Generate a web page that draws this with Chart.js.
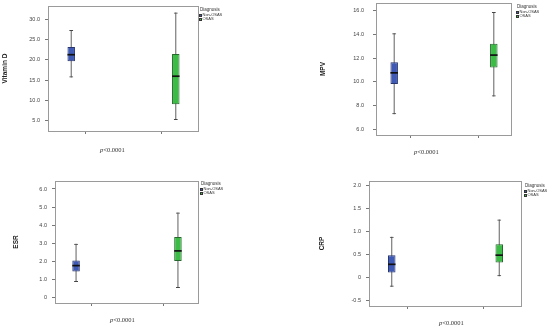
<!DOCTYPE html>
<html><head><meta charset="utf-8">
<script src="https://cdn.jsdelivr.net/npm/chart.js@4.4.1/dist/chart.umd.min.js"></script>
<style>
html,body{margin:0;padding:0;background:#fff;width:550px;height:330px;overflow:hidden;position:relative;font-family:"Liberation Sans",Arial,sans-serif;}
canvas{position:absolute;}
.lg{position:absolute;color:#333;line-height:1;white-space:nowrap;font-size:4.5px;}
.sw{position:absolute;width:3px;height:3px;border:0.5px solid #333;box-sizing:border-box;}
.pv{position:absolute;font-family:"Liberation Serif","Times New Roman",serif;font-size:6.5px;line-height:1;color:#333;white-space:nowrap;}
</style></head><body>
<script>
// categories / series (each box: [min, q1, median, q3, max])
const groups = ['Non-OSAS', 'OSAS'];
const vitDNonOSAS = [15.7, 19.7, 21.3, 23.2, 27.4];
const vitDOSAS    = [5.2, 9.1, 16.0, 21.5, 31.7];
const mpvNonOSAS  = [7.25, 9.8, 10.75, 11.65, 14.1];
const mpvOSAS     = [8.75, 11.2, 12.25, 13.2, 15.9];
const esrNonOSAS  = [0.87, 1.46, 1.78, 2.06, 2.98];
const esrOSAS     = [0.54, 2.04, 2.59, 3.36, 4.70];
const crpNonOSAS  = [-0.21, 0.10, 0.28, 0.48, 0.88];
const crpOSAS     = [0.02, 0.32, 0.48, 0.72, 1.26];
// tick labels
const vitDTicks = [5, 10, 15, 20, 25, 30];
const mpvTicks  = [6, 8, 10, 12, 14, 16];
const esrTicks  = [0, 1, 2, 3, 4, 5, 6];
const crpTicks  = [-0.5, 0, 0.5, 1.0, 1.5, 2.0];
const pText = 'p<0.0001';

const fill = {'Non-OSAS': '#3f5ab4', 'OSAS': '#3cbb46'};
const edge = {'Non-OSAS': '#26356e', 'OSAS': '#24682b'};

const panels = [
  {qx:0,   qy:0,   L:48,  R:199, T:6,  B:131, titleX:5,  tickPad:5, catPct:0.77, title:'Vitamin D', ticks:vitDTicks, min:2.5,   max:33.3, data:[vitDNonOSAS, vitDOSAS], leg:{x:199, y:8},  p:{x:100, y:150}},
  {qx:275, qy:0,   L:101, R:237, T:3,  B:135, titleX:48, tickPad:9, catPct:0.93, title:'MPV',       ticks:mpvTicks,  min:5.5,   max:16.65, data:[mpvNonOSAS, mpvOSAS], leg:{x:241, y:5},  p:{x:139, y:152}},
  {qx:0,   qy:165, L:55,  R:199, T:16, B:138, titleX:16, tickPad:5, catPct:0.83, title:'ESR',       ticks:esrTicks,  min:-0.28, max:6.44, data:[esrNonOSAS, esrOSAS], leg:{x:200, y:17}, p:{x:110, y:155}},
  {qx:275, qy:165, L:94,  R:247, T:16, B:141, titleX:47, tickPad:5, catPct:0.81, title:'CRP',       ticks:crpTicks,  min:-0.63, max:2.10, data:[crpNonOSAS, crpOSAS], leg:{x:249, y:19}, p:{x:164, y:158}}
];

const framePlugin = {
  id: 'frame',
  beforeDatasetsDraw(chart) {
    const {ctx, chartArea: a} = chart;
    ctx.save();
    ctx.strokeStyle = '#9a9a9a';
    ctx.lineWidth = 1;
    ctx.strokeRect(Math.round(a.left) + 0.5, Math.round(a.top) + 0.5,
                   Math.round(a.right - a.left) - 1, Math.round(a.bottom - a.top));
    ctx.restore();
  }
};

function fmt(v) { return v === 0 ? '0' : v.toFixed(1); }

function makeDatasets(boxes, catPct) {
  const ds = [];
  groups.forEach((g, gi) => {
    const b = boxes[gi];
    const at = (val) => groups.map((_, i) => i === gi ? val : null);
    const common = {stack: g, grouped: true, categoryPercentage: catPct, barPercentage: 1, borderSkipped: false};
    // median line
    ds.push(Object.assign({label: g + ' median', data: at([b[2], b[2]]), backgroundColor: '#111', borderWidth: 0, inflateAmount: 0.85, maxBarThickness: 5.8, order: -1}, common));
    // box (q1..q3)
    ds.push(Object.assign({label: g, data: at([b[1], b[3]]), backgroundColor: fill[g], borderColor: edge[g], borderWidth: 1, inflateAmount: 0, maxBarThickness: 7.5, order: 0}, common));
    // whisker caps
    ds.push(Object.assign({label: g + ' caps', data: at([b[0], b[4]]), backgroundColor: 'rgba(0,0,0,0)', borderColor: '#444', borderWidth: {top: 1, bottom: 1, left: 0, right: 0}, inflateAmount: 0, maxBarThickness: 4, order: 1}, common));
    // whisker line
    ds.push(Object.assign({label: g + ' whisker', data: at([b[0], b[4]]), backgroundColor: '#606060', borderWidth: 0, inflateAmount: 0, maxBarThickness: 1, order: 2}, common));
  });
  return ds;
}

panels.forEach((p) => {
  const cv = document.createElement('canvas');
  cv.width = 285; cv.height = 175;
  cv.style.left = (p.qx - 10) + 'px';
  cv.style.top = (p.qy - 10) + 'px';
  cv.style.width = '285px'; cv.style.height = '175px';
  document.body.appendChild(cv);
  const titleLeft = p.titleX - 3.9;
  const yW = p.L - titleLeft;
  const xH = 8;
  new Chart(cv.getContext('2d'), {
    type: 'bar',
    data: {labels: groups, datasets: makeDatasets(p.data, p.catPct)},
    options: {
      responsive: false, animation: false, devicePixelRatio: 1,
      layout: {padding: {left: 10 + titleLeft, right: 275 - p.R, top: 10 + p.T, bottom: 165 - p.B - xH}},
      plugins: {legend: {display: false}, tooltip: {enabled: false}},
      scales: {
        x: {
          type: 'category', offset: true,
          grid: {offset: false, drawOnChartArea: false, drawTicks: true, tickLength: 3, color: '#777'},
          border: {display: false},
          ticks: {callback: () => '', padding: 0},
          afterFit: s => { s.height = xH; }
        },
        y: {
          type: 'linear', min: p.min, max: p.max, stacked: false,
          grid: {drawOnChartArea: false, drawTicks: true, tickLength: 3, color: '#777'},
          border: {display: false},
          ticks: {autoSkip: false, padding: p.tickPad, color: '#444', font: {family: '"Liberation Sans", Arial, sans-serif', size: 5.5}, callback: v => fmt(v)},
          afterBuildTicks: s => { s.ticks = p.ticks.map(v => ({value: v})); },
          title: {display: true, text: p.title, color: '#222', padding: 0, font: {family: '"Liberation Sans", Arial, sans-serif', size: 6.5, weight: 'bold', lineHeight: 1.2}},
          afterFit: s => { s.width = yW; }
        }
      }
    },
    plugins: [framePlugin]
  });

  // legend (Diagnosis)
  const lx = p.qx + p.leg.x, ly = p.qy + p.leg.y;
  const t = document.createElement('div');
  t.className = 'lg'; t.textContent = 'Diagnosis';
  t.style.left = (lx + 1) + 'px'; t.style.top = ly + 'px';
  document.body.appendChild(t);
  groups.forEach((g, gi) => {
    const s = document.createElement('div');
    s.className = 'sw'; s.style.background = fill[g];
    s.style.left = lx + 'px'; s.style.top = (ly + 5.5 + gi * 4) + 'px';
    document.body.appendChild(s);
    const l = document.createElement('div');
    l.className = 'lg'; l.style.fontSize = '4px'; l.textContent = g;
    l.style.left = (lx + 3.5) + 'px'; l.style.top = (ly + 5.3 + gi * 4) + 'px';
    document.body.appendChild(l);
  });

  // p-value
  const pv = document.createElement('div');
  pv.className = 'pv';
  pv.innerHTML = '<i>p</i>' + pText.slice(1).replace('<', '&lt;');
  pv.style.left = (p.qx + p.p.x) + 'px'; pv.style.top = (p.qy + p.p.y - 3.3) + 'px';
  document.body.appendChild(pv);
});
</script>
</body></html>
